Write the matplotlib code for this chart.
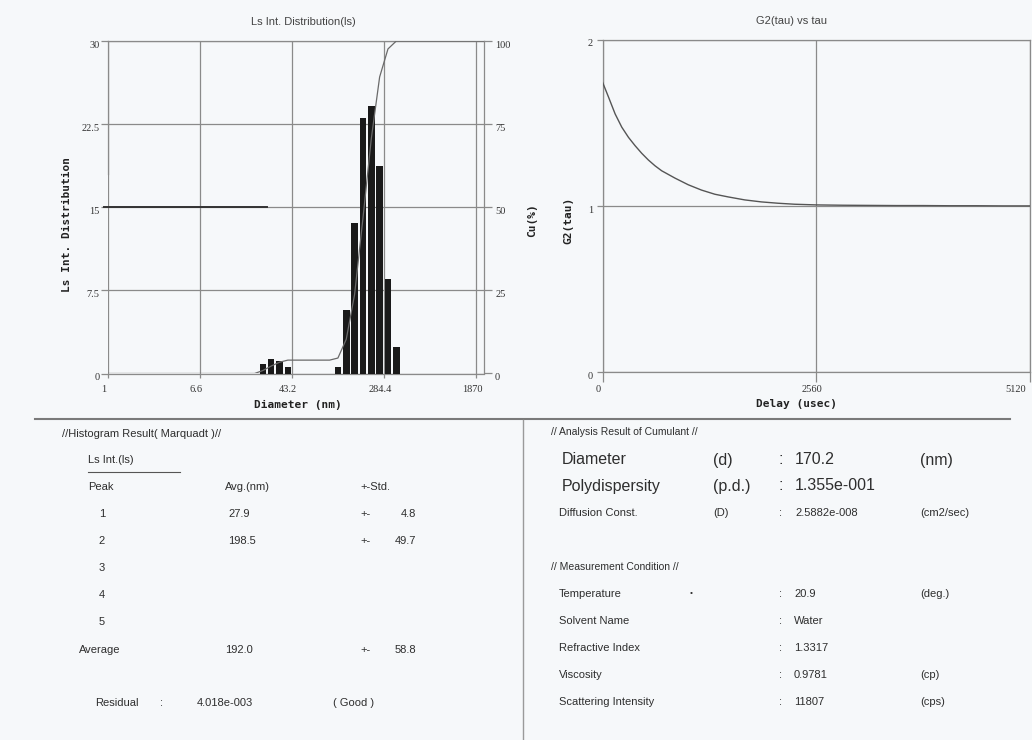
import numpy as np
import matplotlib.pyplot as plt
from matplotlib.lines import Line2D
from matplotlib.ticker import FixedLocator, FixedFormatter, NullLocator
from matplotlib.transforms import ScaledTranslation

W, H = 1032, 740
BG = '#f6f8fa'
INK = '#2e2e2e'
GRID = '#8a8a8a'

# Ls intensity distribution (%) per size bin, bin centres in nm
diam = [23.8, 28.2, 33.5, 39.7, 47.1, 55.9, 66.3, 78.6, 93.3,
        110.6, 131.2, 155.6, 184.6, 219.0, 259.8, 308.2, 365.6]
ls_int = [0.9, 1.35, 1.17, 0.63, 0, 0, 0, 0, 0,
          0.63, 5.7, 13.55, 23.05, 24.1, 18.7, 8.5, 2.4]
diam_ticks = [1, 6.6, 43.2, 284.4, 1870]
diam_labels = ['1', '6.6', '43.2', '284.4', '1870']
dist_ticks = [0, 7.5, 15, 22.5, 30]
dist_labels = ['0', '7.5', '15', '22.5', '30']
cu_ticks = [0, 25, 50, 75, 100]

# correlation function G2(tau)
tau = [0, 72, 151, 231, 311, 390, 470, 549, 629, 709, 868, 1027, 1186,
       1346, 1505, 1704, 1903, 2102, 2301, 2560, 2880, 3200, 3520, 3840,
       4160, 4480, 4800, 5120]
g2 = [1.744, 1.654, 1.553, 1.473, 1.412, 1.362, 1.316, 1.276, 1.241,
      1.211, 1.167, 1.127, 1.095, 1.070, 1.054, 1.036, 1.024, 1.016,
      1.010, 1.006, 1.004, 1.003, 1.002, 1.002, 1.001, 1.001, 1.000, 1.000]
tau_ticks = [0, 2560, 5120]
g2_ticks = [0, 1, 2]

# histogram result table
peak_no = ['1', '2', '3', '4', '5']
peak_avg = ['27.9', '198.5', '', '', '']
peak_std = ['4.8', '49.7', '', '', '']
avg_all, std_all = '192.0', '58.8'
residual = '4.018e-003'

# cumulant result / measurement condition
cum_names = ['Diameter', 'Polydispersity', 'Diffusion Const.']
cum_syms = ['(d)', '(p.d.)', '(D)']
cum_vals = ['170.2', '1.355e-001', '2.5882e-008']
cum_units = ['(nm)', '', '(cm2/sec)']
cond_names = ['Temperature', 'Solvent Name', 'Refractive Index',
              'Viscosity', 'Scattering Intensity']
cond_vals = ['20.9', 'Water', '1.3317', '0.9781', '11807']
cond_units = ['(deg.)', '', '', '(cp)', '(cps)']

fig = plt.figure(figsize=(W / 100, H / 100), dpi=100, facecolor=BG)


def px_box(x0, y0, x1, y1):
    return [x0 / W, 1 - y1 / H, (x1 - x0) / W, (y1 - y0) / H]


def put(x, y, s, size=8, **kw):
    kw.setdefault('family', 'Liberation Sans')
    kw.setdefault('color', INK)
    fig.text(x / W, 1 - y / H, s, fontsize=size, va='center', **kw)


def axis_label(x, y, s, rot=0):
    fig.text(x / W, 1 - y / H, s, fontsize=8, family='DejaVu Sans Mono',
             weight='bold', color='#222222', ha='center', va='center',
             rotation=rot)


def style_axes(ax):
    ax.set_facecolor('none')
    for sp in ax.spines.values():
        sp.set_color(GRID)
        sp.set_linewidth(0.9)
    ax.grid(True, color=GRID, lw=0.9)
    ax.tick_params(direction='out', length=5, width=0.9, color=GRID,
                   labelsize=7.5, labelcolor='#333333', pad=1,
                   labelfontfamily='Liberation Serif')


shift_left = ScaledTranslation(-4 / 100, 0, fig.dpi_scale_trans)

# ---- left panel: size distribution ----
ax1 = fig.add_axes(px_box(108, 41, 484, 373.5))
style_axes(ax1)
ax1.set_xscale('log')
ax1.set_xlim(1, 2200)
ax1.set_ylim(0, 30)
ax1.xaxis.set_major_locator(FixedLocator(diam_ticks))
ax1.xaxis.set_major_formatter(FixedFormatter(diam_labels))
ax1.xaxis.set_minor_locator(NullLocator())
ax1.yaxis.set_major_locator(FixedLocator(dist_ticks))
ax1.yaxis.set_major_formatter(FixedFormatter(dist_labels))
ax1.tick_params(axis='x', length=3, pad=5)
ax1.spines['right'].set_visible(False)
ax1.spines['left'].set_bounds(18, 30)

c = np.array(diam)
half = 10 ** (0.0594 / 2)
ax1.bar(c / half, ls_int, width=c * half - c / half, align='edge',
        color='#1a1a1a', zorder=3)
ax1.plot([0.93, 26], [15, 15], color='#333333', lw=1.4, zorder=2,
         clip_on=False)

ax1b = ax1.twinx()
ax1b.set_ylim(0, 100)
ax1b.yaxis.set_major_locator(FixedLocator(cu_ticks))
ax1b.tick_params(direction='out', length=6, width=0.9, color=GRID,
                 labelsize=7.5, labelcolor='#333333', pad=2,
                 labelfontfamily='Liberation Serif')
for k, sp in ax1b.spines.items():
    sp.set_visible(k == 'right')
    sp.set_color(GRID)
    sp.set_linewidth(0.9)
cu = np.cumsum(ls_int) / np.sum(ls_int) * 100
cu_x = [1, diam[0] * diam[0] / diam[1]] + diam + [2200]
cu_y = [0, 0] + list(cu) + [100]
ax1b.plot(cu_x, cu_y, color='#6a6a6a', lw=0.9, zorder=4)

# ---- right panel: G2(tau) ----
ax2 = fig.add_axes(px_box(602.5, 39.5, 1030, 372.3))
style_axes(ax2)
ax2.set_xlim(0, 5120)
ax2.set_ylim(0, 2)
ax2.xaxis.set_major_locator(FixedLocator(tau_ticks))
ax2.yaxis.set_major_locator(FixedLocator(g2_ticks))
ax2.tick_params(axis='x', length=7, pad=2)
ax2.tick_params(axis='y', length=4, pad=3)
ax2.plot(tau, g2, color='#555555', lw=1.0, zorder=3)

for ax in (ax1, ax1b, ax2):
    plt.setp(ax.get_yticklabels(), va='top')
for ax in (ax1, ax2):
    for lbl in ax.get_xticklabels():
        lbl.set_transform(lbl.get_transform() + shift_left)
ax2.get_xticklabels()[-1].set_ha('right')

fig.text(303 / W, 1 - 22 / H, 'Ls Int. Distribution(ls)', fontsize=8,
         family='Liberation Sans', color='#444444', ha='center', va='center')
fig.text(792 / W, 1 - 21 / H, 'G2(tau) vs tau', fontsize=8,
         family='Liberation Sans', color='#444444', ha='center', va='center')
axis_label(298, 405, 'Diameter (nm)')
axis_label(67, 225, 'Ls Int. Distribution', rot=90)
axis_label(797, 404, 'Delay (usec)')
axis_label(532, 220, 'Cu(%)', rot=90)
axis_label(568, 220, 'G2(tau)', rot=90)

# ---- separators ----
fig.add_artist(Line2D([35 / W, 1010 / W], [1 - 419 / H, 1 - 419 / H],
                      color='#7a7a7a', lw=1.5))
fig.add_artist(Line2D([523 / W, 523 / W], [1 - 420 / H, 0],
                      color='#9a9a9a', lw=1.0))
fig.add_artist(Line2D([88 / W, 180 / W], [1 - 472 / H, 1 - 472 / H],
                      color='#555555', lw=0.8))

# ---- histogram result table ----
put(62, 434, '//Histogram Result( Marquadt )//')
put(88, 460, 'Ls Int.(ls)')
put(88, 487, 'Peak')
put(225, 487, 'Avg.(nm)')
put(360, 487, '+-Std.')
for i, p in enumerate(peak_no):
    y = 514 + 27 * i
    put(102, y, p, ha='center')
    if peak_avg[i]:
        put(228, y, peak_avg[i])
        put(360, y, '+-')
        put(416, y, peak_std[i], ha='right')
put(79, 650, 'Average')
put(225, 650, avg_all)
put(360, 650, '+-')
put(416, 650, std_all, ha='right')
put(95, 703, 'Residual')
put(160, 703, ':')
put(197, 703, residual)
put(333, 703, '( Good )')

# ---- cumulant / measurement table ----
put(551, 432, '// Analysis Result of Cumulant //', size=7.5)
for i, name in enumerate(cum_names):
    y = [460, 486, 513][i]
    size = 11.5 if i < 2 else 8
    put(562 if i < 2 else 559, y, name, size=size)
    put(713, y, cum_syms[i], size=size)
    put(779, y, ':', size=size)
    put(795, y, cum_vals[i], size=size)
    if cum_units[i]:
        put(920, y, cum_units[i], size=size)
put(551, 567, '// Measurement Condition //', size=7.5)
put(690, 594, '\u2022', size=6)
for i, name in enumerate(cond_names):
    y = 594 + 27 * i
    put(559, y, name)
    put(779, y, ':')
    put(794, y, cond_vals[i])
    if cond_units[i]:
        put(920, y, cond_units[i])

fig.savefig('out.png', dpi=100, facecolor=BG)
